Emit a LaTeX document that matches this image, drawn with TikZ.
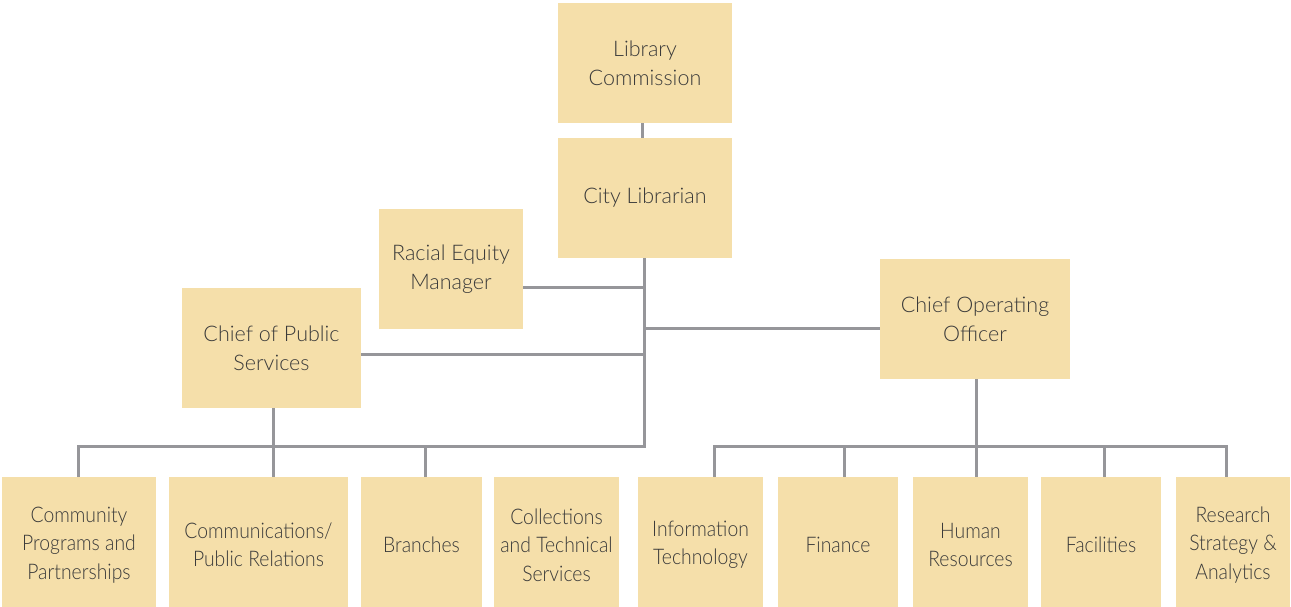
\documentclass[tikz,border=0pt]{standalone}
\usepackage{fontspec}
\setmainfont{Lato}[UprightFont={* Light}]
\newfontfamily\condfont{Lato}[UprightFont={* Light},FakeStretch=0.9]
\definecolor{boxfill}{HTML}{F5DFAA}
\definecolor{linec}{HTML}{96969A}
\definecolor{textc}{HTML}{3A3A3A}
\begin{document}
\begin{tikzpicture}[x=1pt,y=-1pt,
  box/.style={fill=boxfill,draw=none,align=center,inner sep=0pt,text=textc,
    font=\fontsize{21.5}{29}\selectfont},
  lowbox/.style={box,minimum height=136pt,font=\condfont\fontsize{21.5}{28.5}\selectfont},
  conn/.style={draw=linec,line width=3pt}]
\useasboundingbox (0,0) rectangle (1291,607);
% top
\node[box,minimum width=174pt,minimum height=120pt] (lc) at (645,63) {Library\\Commission};
\node[box,minimum width=174pt,minimum height=120pt] (cl) at (645,198) {\raisebox{-3pt}{City Librarian}};
\node[box,minimum width=144pt,minimum height=120pt] (rem) at (451,269) {Racial Equity\\Manager};
\node[box,minimum width=179pt,minimum height=120pt] (cps) at (271.5,348) {Chief of Public\\Services};
\node[box,minimum width=190pt,minimum height=120pt] (coo) at (975,319) {Chief Operating\\Officer};
% bottom row
\node[lowbox,minimum width=154pt] (b1) at (79,545) {Community\\Programs and\\Partnerships};
\node[lowbox,minimum width=179pt] (b2) at (258.5,545) {Communications/\\Public Relations};
\node[lowbox,minimum width=121pt] (b3) at (421.5,545) {Branches};
\node[lowbox,minimum width=125pt] (b4) at (556.5,545) {Collections\\and Technical\\Services};
\node[lowbox,minimum width=125pt] (b5) at (700.5,545) {Information\\Technology};
\node[lowbox,minimum width=120pt] (b6) at (838,545) {Finance};
\node[lowbox,minimum width=115pt] (b7) at (970.5,545) {Human\\Resources};
\node[lowbox,minimum width=120pt] (b8) at (1101,545) {Facilities};
\node[lowbox,minimum width=114pt] (b9) at (1233,545) {Research\\Strategy \&\\Analytics};
% junction coordinates
\coordinate (trunk) at (644,446);
\coordinate (lbar) at (78,446);
\coordinate (rbarL) at (714,446);
\coordinate (rbarR) at (1226,446);
% connectors
\draw[conn] ([xshift=-3pt]lc.south) -- ([xshift=-3pt]cl.north);
\draw[conn] (cl.south -| trunk) -- (trunk) -- (lbar) -- (lbar |- b1.north);
\draw[conn] ([yshift=-18pt]rem.east) -- ([yshift=-18pt]rem.east -| trunk);
\draw[conn] ([yshift=-6pt]cps.east) -- ([yshift=-6pt]cps.east -| trunk);
\draw[conn] ([yshift=-9pt]coo.west) -- ([yshift=-9pt]coo.west -| trunk);
\draw[conn] ([xshift=1.5pt]cps.south) -- ([xshift=1.5pt]cps.south |- b2.north);
\draw[conn] (425,446) coordinate (j3) -- (j3 |- b3.north);
\draw[conn] ([xshift=1pt]coo.south) -- ([xshift=1pt]coo.south |- rbarL);
\draw[conn] (rbarL |- b5.north) -- (rbarL) -- (rbarR) -- (rbarR |- b9.north);
\draw[conn] (844,446) coordinate (j6) -- (j6 |- b6.north);
\draw[conn] (976,446) coordinate (j7) -- (j7 |- b7.north);
\draw[conn] (1104,446) coordinate (j8) -- (j8 |- b8.north);
\end{tikzpicture}
\end{document}
